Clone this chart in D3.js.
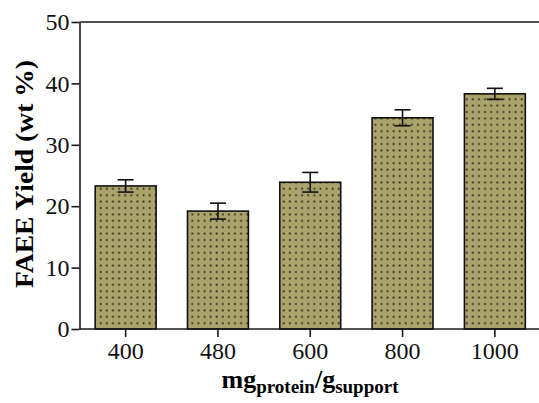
<!DOCTYPE html>
<html lang="en">
<head>
<meta charset="utf-8">
<style>
  body { margin: 0; background: white; }
  svg { font-family: 'Liberation Serif', 'Times New Roman', serif; }
  .axis path, .axis line { stroke: #1a1a1a; stroke-width: 1.6px; }
  .axis text { font-size: 24px; fill: #111; }
</style>
</head>
<body>
<div id="chart"></div>
<script src="https://d3js.org/d3.v7.min.js"></script>
<script>
// data
var loadings = ["400", "480", "600", "800", "1000"];
var yieldMean = [23.3, 19.2, 23.9, 34.4, 38.3];
var yieldErr = [1.0, 1.3, 1.6, 1.3, 0.9];
var yTicks = [0, 10, 20, 30, 40, 50];

var W = 539, H = 403;
var plotLeft = 79.5, plotTop = 22, plotBottom = 329;

var svg = d3.select("#chart").append("svg")
    .attr("width", W)
    .attr("height", H);

// dotted fill
var pat = svg.append("defs").append("pattern")
    .attr("id", "dots")
    .attr("patternUnits", "userSpaceOnUse")
    .attr("width", 6.1)
    .attr("height", 6.4);
pat.append("rect").attr("width", 6.1).attr("height", 6.4).attr("fill", "#aaa36b");
pat.append("rect").attr("x", 2.3).attr("y", 2.3).attr("width", 1.8).attr("height", 1.8).attr("fill", "#2a271a");

var x = d3.scaleBand()
    .domain(loadings)
    .range([plotLeft, plotLeft + 5 * 92.3])
    .paddingInner(0.34)
    .paddingOuter(0.17);

var y = d3.scaleLinear()
    .domain([0, 50])
    .range([plotBottom, plotTop]);

var data = loadings.map(function(d, i) {
  return {k: d, v: yieldMean[i], e: yieldErr[i]};
});

// bars
svg.selectAll("rect.bar")
  .data(data)
  .enter()
  .append("rect")
    .attr("class", "bar")
    .attr("x", function(d) { return x(d.k); })
    .attr("width", x.bandwidth())
    .attr("y", function(d) { return y(d.v); })
    .attr("height", function(d) { return plotBottom - y(d.v); })
    .attr("fill", "url(#dots)")
    .attr("stroke", "#111")
    .attr("stroke-width", 1.6);

// error bars
var cx = function(d) { return x(d.k) + x.bandwidth() / 2; };
var eb = svg.selectAll("g.err")
  .data(data)
  .enter()
  .append("g")
    .attr("class", "err")
    .attr("stroke", "#111")
    .attr("stroke-width", 1.6);
eb.append("line")
    .attr("x1", cx).attr("x2", cx)
    .attr("y1", function(d) { return y(d.v + d.e); })
    .attr("y2", function(d) { return y(d.v - d.e); });
eb.append("line")
    .attr("x1", function(d) { return cx(d) - 8; })
    .attr("x2", function(d) { return cx(d) + 8; })
    .attr("y1", function(d) { return y(d.v + d.e); })
    .attr("y2", function(d) { return y(d.v + d.e); });
eb.append("line")
    .attr("x1", function(d) { return cx(d) - 8; })
    .attr("x2", function(d) { return cx(d) + 8; })
    .attr("y1", function(d) { return y(d.v - d.e); })
    .attr("y2", function(d) { return y(d.v - d.e); });

// top frame line
svg.append("line")
    .attr("x1", plotLeft).attr("x2", W)
    .attr("y1", y(50)).attr("y2", y(50))
    .attr("stroke", "#1a1a1a")
    .attr("stroke-width", 1.6);

// axes
var ya = svg.append("g")
    .attr("class", "axis")
    .attr("transform", "translate(" + plotLeft + ",0)")
    .call(d3.axisLeft(y).tickValues(yTicks).tickSize(8).tickPadding(2).tickSizeOuter(0));
ya.attr("font-family", null).attr("font-size", null);

var xa = svg.append("g")
    .attr("class", "axis")
    .attr("transform", "translate(0," + plotBottom + ")")
    .call(d3.axisBottom(x).tickSize(8).tickPadding(5).tickSizeOuter(0));
xa.attr("font-family", null).attr("font-size", null);
xa.select(".domain").attr("d", "M" + plotLeft + ",0H" + W);

// axis titles
svg.append("text")
    .attr("transform", "translate(33,174) rotate(-90)")
    .attr("text-anchor", "middle")
    .attr("textLength", 228)
    .attr("lengthAdjust", "spacingAndGlyphs")
    .style("font-size", "26px")
    .style("font-weight", "bold")
    .text("FAEE Yield (wt %)");

var xt = svg.append("text")
    .attr("x", 310)
    .attr("y", 388)
    .attr("text-anchor", "middle")
    .style("font-weight", "bold")
    .style("font-size", "26px");
xt.append("tspan").text("mg");
xt.append("tspan").attr("dy", 5).style("font-size", "19px").text("protein");
xt.append("tspan").attr("dy", -5).text("/g");
xt.append("tspan").attr("dy", 5).style("font-size", "19px").text("support");
</script>
</body>
</html>
